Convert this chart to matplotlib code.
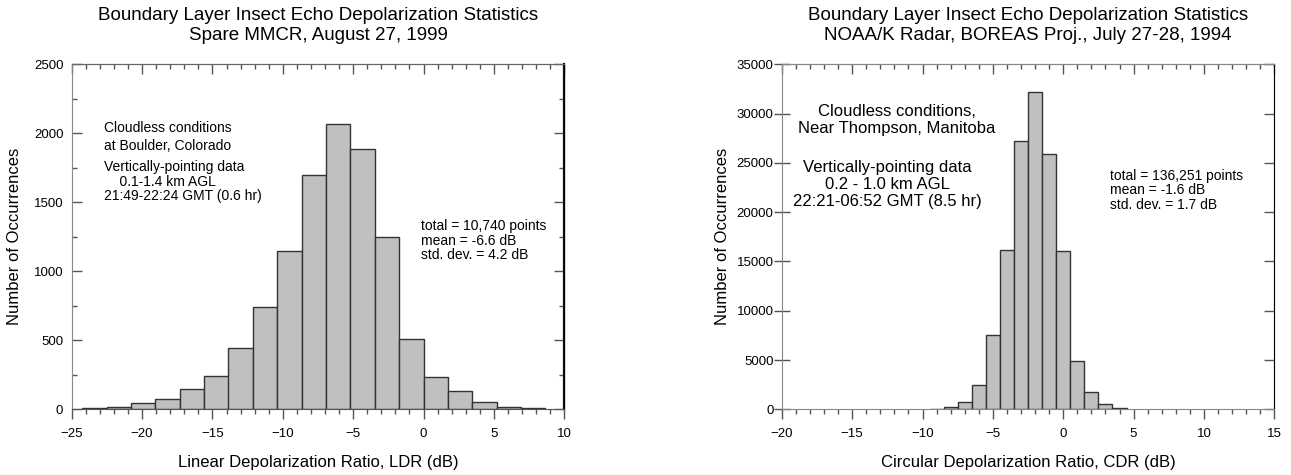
import matplotlib
matplotlib.use("Agg")
from matplotlib import pyplot as plt
from matplotlib.ticker import MultipleLocator, NullLocator

plt.rcParams['font.family'] = ['Liberation Sans', 'DejaVu Sans']

# left panel - Spare MMCR, LDR histogram
ldr_bin_left = [-24.25, -22.52, -20.78, -19.05, -17.32, -15.59, -13.86, -12.12, -10.39,
                -8.66, -6.93, -5.20, -3.46, -1.73, 0.00, 1.73, 3.46, 5.20, 6.93]
ldr_bin_width = 1.732
ldr_counts = [7, 19, 43, 75, 147, 240, 443, 740, 1150, 1700, 2065, 1886, 1248, 508, 237, 133, 55, 19, 8]

# right panel - NOAA/K radar, CDR histogram
cdr_bin_center = [-9, -8, -7, -6, -5, -4, -3, -2, -1, 0, 1, 2, 3, 4]
cdr_bin_width = 1.0
cdr_counts = [70, 250, 740, 2450, 7500, 16200, 27200, 32200, 25900, 16100, 4950, 1800, 530, 140]

titles = [["Boundary Layer Insect Echo Depolarization Statistics", "Spare MMCR, August 27, 1999"],
          ["Boundary Layer Insect Echo Depolarization Statistics", "NOAA/K Radar, BOREAS Proj., July 27-28, 1994"]]
xlabels = ["Linear Depolarization Ratio, LDR (dB)", "Circular Depolarization Ratio, CDR (dB)"]
ylabel = "Number of Occurrences"

W, H = 1291, 475
fig = plt.figure(figsize=(W / 100, H / 100), dpi=100)

ax1 = fig.add_axes([71.7 / W, (H - 409.3) / H, 492.6 / W, 345 / H])
ax2 = fig.add_axes([781.8 / W, (H - 409.3) / H, 492.5 / W, 345 / H])

ax1.bar(ldr_bin_left, ldr_counts, width=ldr_bin_width, align='edge',
        color='#c0c0c0', edgecolor='#333333', linewidth=1.0, zorder=2)
ax2.bar(cdr_bin_center, cdr_counts, width=cdr_bin_width, align='center',
        color='#c0c0c0', edgecolor='#333333', linewidth=1.0, zorder=2)

ax1.set_xlim(-25, 10)
ax1.set_ylim(0, 2500)
ax2.set_xlim(-20, 15)
ax2.set_ylim(0, 35000)

tick_col = '#555555'


def style(ax, ymajor, yminor, ydir):
    ax.xaxis.set_major_locator(MultipleLocator(5))
    ax.xaxis.set_minor_locator(MultipleLocator(1))
    ax.yaxis.set_major_locator(MultipleLocator(ymajor))
    if yminor:
        ax.yaxis.set_minor_locator(MultipleLocator(yminor))
    else:
        ax.yaxis.set_minor_locator(NullLocator())
    ax.tick_params(axis='x', which='major', direction='out', length=7.2, width=1,
                   color=tick_col, labelsize=9.5, pad=6)
    ax.tick_params(axis='x', which='minor', direction='out', length=3.6, width=1, color=tick_col)
    ax.tick_params(axis='y', which='major', direction=ydir, length=7.2 if ydir == 'in' else 11,
                   width=1, color=tick_col, labelsize=9.5, pad=6 if ydir == 'in' else 0.5)
    ax.tick_params(axis='y', which='minor', direction='in', length=3.6, width=1, color=tick_col)

    top = ax.secondary_xaxis('top')
    top.xaxis.set_major_locator(MultipleLocator(5))
    top.xaxis.set_minor_locator(MultipleLocator(1))
    top.tick_params(axis='x', which='major', direction='in', length=7.2, width=1,
                    color=tick_col, labeltop=False)
    top.tick_params(axis='x', which='minor', direction='in', length=3.6, width=1, color=tick_col)
    top.spines['top'].set_color('#666666')

    right = ax.secondary_yaxis('right')
    right.yaxis.set_major_locator(MultipleLocator(ymajor))
    if yminor:
        right.yaxis.set_minor_locator(MultipleLocator(yminor))
    else:
        right.yaxis.set_minor_locator(NullLocator())
    right.tick_params(axis='y', which='major', direction='in', length=7.2, width=1,
                      color=tick_col, labelright=False)
    right.tick_params(axis='y', which='minor', direction='in', length=3.6, width=1, color=tick_col)
    return right


r1 = style(ax1, 500, 250, 'in')
r2 = style(ax2, 5000, None, 'inout')

ax1.spines['left'].set_color('#888888')
ax1.spines['bottom'].set_color('#555555')
ax1.spines['top'].set_color('#666666')
r1.spines['right'].set_color('#111111')
r1.spines['right'].set_linewidth(1.6)
for s in ['left', 'bottom', 'top']:
    ax2.spines[s].set_color('#888888')
r2.spines['right'].set_color('#999999')

for ax, (t1, t2), xl in zip([ax1, ax2], titles, xlabels):
    ax.set_xlabel(xl, fontsize=12, va='top')
    ax.xaxis.set_label_coords(0.5, -0.1325)
    ax.set_ylabel(ylabel, fontsize=12)
    bb = ax.get_position()
    xc = (bb.x0 + bb.x1) / 2
    fig.text(xc, 1 - 15 / H, t1, fontsize=13.5, ha='center', va='center')
    fig.text(xc, 1 - 35 / H, t2, fontsize=13.5, ha='center', va='center')

ax1.yaxis.set_label_coords(-0.1009, 0.5)
ax2.yaxis.set_label_coords(-0.1042, 0.5)

# annotations, left panel
ax1.text(0.0656, 0.789, "Cloudless conditions\nat Boulder, Colorado", transform=ax1.transAxes,
         fontsize=10, ha='left', va='center', linespacing=1.3)
ax1.text(0.0656, 0.659, "Vertically-pointing data\n    0.1-1.4 km AGL\n21:49-22:24 GMT (0.6 hr)",
         transform=ax1.transAxes, fontsize=10, ha='left', va='center', linespacing=1.05)
ax1.text(0.709, 0.488, "total = 10,740 points\nmean = -6.6 dB\nstd. dev. = 4.2 dB",
         transform=ax1.transAxes, fontsize=10, ha='left', va='center', linespacing=1.05)

# annotations, right panel
ax2.text(0.234, 0.8386, "Cloudless conditions,\nNear Thompson, Manitoba", transform=ax2.transAxes,
         fontsize=12, ha='center', va='center', multialignment='center', linespacing=1.1)
ax2.text(0.2135, 0.6516, "Vertically-pointing data\n0.2 - 1.0 km AGL\n22:21-06:52 GMT (8.5 hr)",
         transform=ax2.transAxes, fontsize=12, ha='center', va='center', multialignment='center',
         linespacing=1.2)
ax2.text(0.6664, 0.635, "total = 136,251 points\nmean = -1.6 dB\nstd. dev. = 1.7 dB",
         transform=ax2.transAxes, fontsize=10, ha='left', va='center', linespacing=1.05)

fig.savefig("out.png", dpi=100)
